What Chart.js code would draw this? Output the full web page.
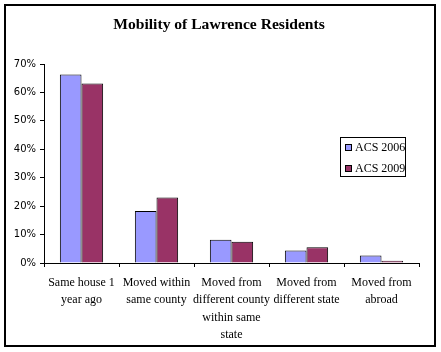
<!DOCTYPE html>
<html>
<head>
<meta charset="utf-8">
<script src="https://cdn.jsdelivr.net/npm/chart.js@4"></script>
<style>
  body { margin: 0; background: #fff; }
  #wrap { position: relative; width: 441px; height: 352px; }
  #frame { position: absolute; left: 4px; top: 4px; width: 428px; height: 339px; border: 2px solid #000; pointer-events: none; }
</style>
</head>
<body>
<div id="wrap">
  <canvas id="mobilityChart" width="441" height="352"></canvas>
  <div id="frame"></div>
</div>
<script>
const chartTitle = 'Mobility of Lawrence Residents'
const categories = [
    ['Same house 1', 'year ago'],
    ['Moved within', 'same county'],
    ['Moved from', 'different county', 'within same', 'state'],
    ['Moved from', 'different state'],
    ['Moved from', 'abroad']
]
const acs2006 = [66.3, 18.3, 8.2, 4.4, 2.6]
const acs2009 = [63.1, 23.0, 7.5, 5.5, 0.8]
const yTicks = [0, 10, 20, 30, 40, 50, 60, 70]

// title centred on the frame, and a boxed legend inside the plot area
const frameDeco = {
    id: 'frameDeco',
    afterDraw(chart) {
        const ctx = chart.ctx
        ctx.save()
        ctx.fillStyle = '#000'
        ctx.font = 'bold 15.6px "Liberation Serif"'
        ctx.textAlign = 'center'
        ctx.textBaseline = 'middle'
        ctx.fillText(chartTitle, 219, 25)

        const x = 340, y = 137, w = 65, h = 39
        ctx.textAlign = 'left'
        ctx.fillStyle = '#fff'
        ctx.fillRect(x, y, w, h)
        ctx.strokeStyle = '#000'
        ctx.lineWidth = 1
        ctx.strokeRect(x + 0.5, y + 0.5, w, h)
        ctx.font = '12px "Liberation Serif"'
        chart.data.datasets.forEach((ds, i) => {
            const cy = y + 11 + i * 21
            ctx.fillStyle = ds.backgroundColor
            ctx.fillRect(x + 5, cy - 4, 7, 7)
            ctx.strokeRect(x + 5.5, cy - 3.5, 6, 6)
            ctx.fillStyle = '#000'
            ctx.fillText(ds.label, x + 15, cy)
        })
        ctx.restore()
    }
}

const renderChart = () => {
    const data = {
        labels: categories,
        datasets: [
            { label: 'ACS 2006', data: acs2006, backgroundColor: '#9999FF', borderColor: '#000', borderWidth: 1 },
            { label: 'ACS 2009', data: acs2009, backgroundColor: '#993366', borderColor: '#000', borderWidth: 1 }
        ]
    }

    const options = {
        responsive: false,
        animation: false,
        layout: { padding: { left: 0, right: 22, top: 64, bottom: 0 } },
        plugins: {
            legend: { display: false },
            tooltip: { enabled: false },
            title: { display: false }
        },
        datasets: {
            bar: { categoryPercentage: 0.577, barPercentage: 1 }
        },
        scales: {
            x: {
                grid: { offset: true, drawOnChartArea: false, drawTicks: true, tickLength: 4, color: '#000' },
                border: { color: '#000', width: 1 },
                ticks: {
                    color: '#000',
                    maxRotation: 0,
                    autoSkip: false,
                    padding: 7,
                    font: { family: '"Liberation Serif"', size: 12, lineHeight: 1.45 }
                },
                afterFit: scale => { scale.height = 89 }
            },
            y: {
                min: 0,
                max: 70,
                afterBuildTicks: scale => { scale.ticks = yTicks.map(v => ({ value: v })) },
                grid: { drawOnChartArea: false, drawTicks: true, tickLength: 4, color: '#000' },
                border: { color: '#000', width: 1 },
                ticks: {
                    color: '#000',
                    padding: 4,
                    font: { family: '"DejaVu Sans"', size: 10 },
                    callback: v => v + '%'
                },
                afterFit: scale => { scale.width = 44 }
            }
        }
    }

    new Chart('mobilityChart', { type: 'bar', data, options, plugins: [frameDeco] })
}

renderChart()
</script>
</body>
</html>
